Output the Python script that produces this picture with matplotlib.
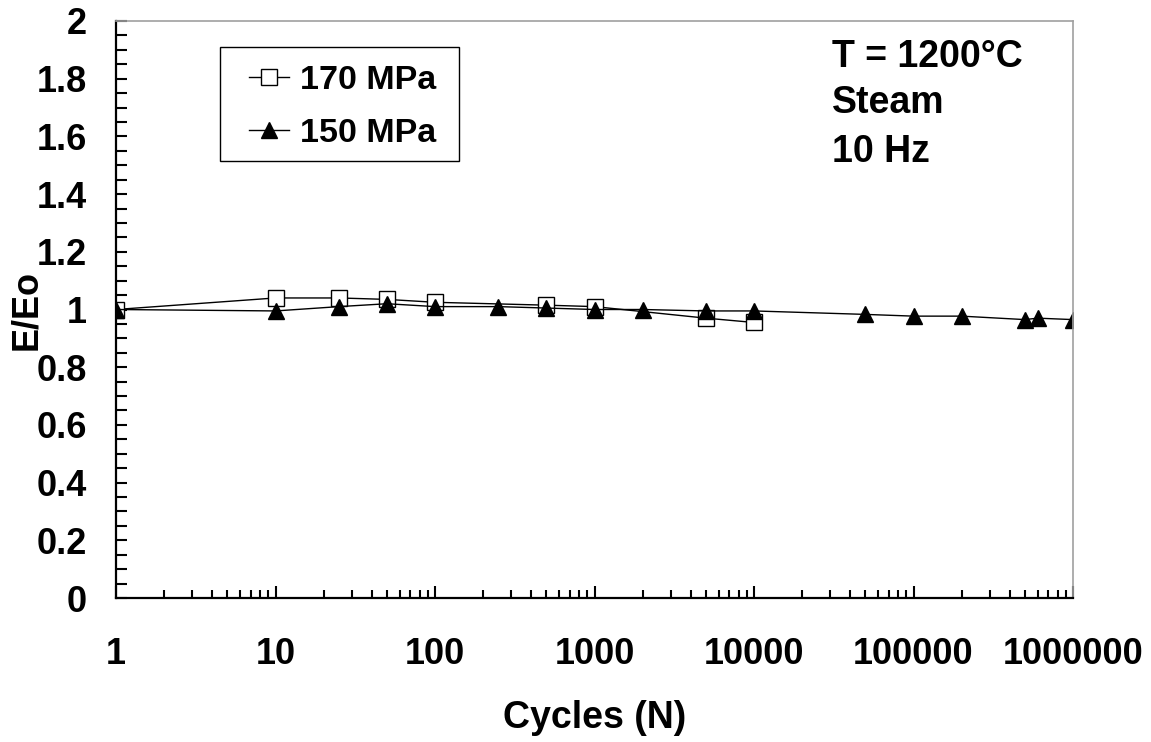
import matplotlib
matplotlib.use("Agg")
import matplotlib.pyplot as plt
from matplotlib.patches import Rectangle
from matplotlib.ticker import LogLocator, MultipleLocator, NullFormatter
import numpy as np

plt.rcParams['font.family'] = ['Liberation Sans', 'DejaVu Sans']
plt.rcParams['font.weight'] = 'bold'

# data
cycles_170 = [1, 10, 25, 50, 100, 500, 1000, 5000, 10000]
ratio_170 = [1.0, 1.04, 1.04, 1.035, 1.025, 1.015, 1.01, 0.97, 0.955]

cycles_150 = [1, 10, 25, 50, 100, 250, 500, 1000, 2000, 5000, 10000,
              50000, 100000, 200000, 500000, 600000, 1000000]
ratio_150 = [1.0, 0.995, 1.01, 1.02, 1.01, 1.01, 1.005, 1.0, 1.0, 0.995, 0.995,
             0.983, 0.977, 0.977, 0.965, 0.97, 0.965]

xticks = [1, 10, 100, 1000, 10000, 100000, 1000000]
xticklabels = ['1', '10', '100', '1000', '10000', '100000', '1000000']
notes = ['T = 1200°C', 'Steam', '10 Hz']

fig = plt.figure(figsize=(11.51, 7.42), dpi=100)
ax = fig.add_axes([116/1151, 1 - 598/742, 957/1151, 577/742])

ax.plot(cycles_170, ratio_170, color='black', lw=1, marker='s', ms=11,
        mfc='white', mec='black', mew=1, label='170 MPa')
ax.plot(cycles_150, ratio_150, color='black', lw=1, marker='^', ms=11,
        mfc='black', mec='black', label='150 MPa')

ax.set_xscale('log')
ax.set_xlim(1, 1000000)
ax.set_ylim(0, 2)
ax.set_xticks(xticks)
ax.set_xticklabels(xticklabels)
ax.xaxis.set_minor_locator(LogLocator(base=10, subs=np.arange(2, 10)))
ax.xaxis.set_minor_formatter(NullFormatter())
ax.yaxis.set_minor_locator(MultipleLocator(0.05))
ax.set_yticks(np.arange(0, 2.01, 0.2))
ax.set_yticklabels(['0', '0.2', '0.4', '0.6', '0.8', '1', '1.2', '1.4', '1.6', '1.8', '2'])

ax.tick_params(axis='both', which='both', direction='in', width=1.5, labelsize=26)
ax.tick_params(axis='x', which='major', length=9, pad=28)
ax.tick_params(axis='x', which='minor', length=6)
ax.tick_params(axis='y', which='both', length=8, pad=21)
ax.tick_params(top=False, right=False, which='both')

for s in ['left', 'bottom']:
    ax.spines[s].set_linewidth(1.6)
    ax.spines[s].set_color('black')
for s in ['top', 'right']:
    ax.spines[s].set_linewidth(1.2)
    ax.spines[s].set_color('#a0a0a0')

ax.set_xlabel('Cycles (N)', fontsize=27, fontweight='bold', labelpad=20)
ax.set_ylabel('E/Eo', fontsize=26, fontweight='bold')
ax.yaxis.set_label_coords(-0.075, 0.5)

# legend box drawn separately so its padding matches
ax.add_patch(Rectangle((0.1087, 0.757), 0.2497, 0.198, transform=ax.transAxes,
                       fill=False, edgecolor='black', lw=1, zorder=4))
leg = ax.legend(loc='upper left', bbox_to_anchor=(0.139, 0.924), borderaxespad=0,
                fontsize=24.5, frameon=False, handlelength=1.18,
                handletextpad=0.32, borderpad=0, labelspacing=0.65)

for txt, yy in zip(notes, [0.920, 0.8406, 0.7556]):
    ax.text(0.748, yy, txt, transform=ax.transAxes, ha='left', va='baseline',
            fontsize=27, fontweight='bold')

fig.savefig('out.png', dpi=100)
